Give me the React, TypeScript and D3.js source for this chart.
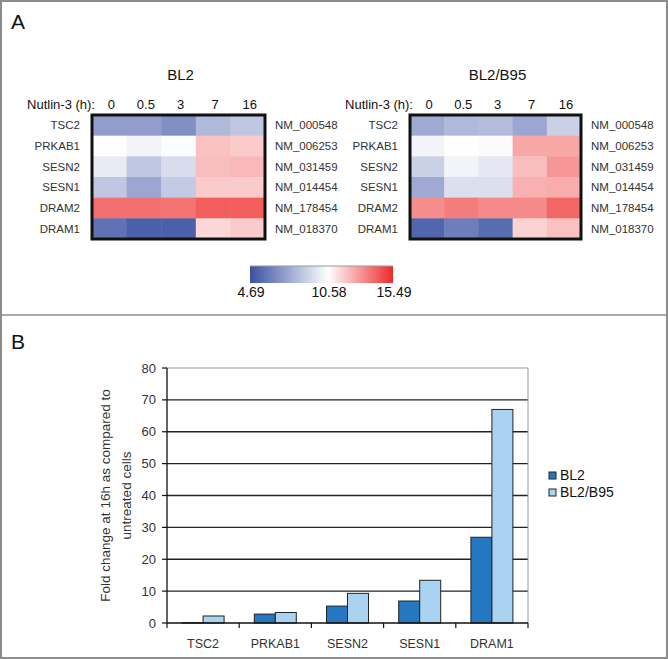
import React from 'react';
import * as d3 from 'd3';

// heatmap data (log2 expression), rows = genes, cols = Nutlin-3 time points
const timePoints = ['0', '0.5', '3', '7', '16'];
const heatGenes = ['TSC2', 'PRKAB1', 'SESN2', 'SESN1', 'DRAM2', 'DRAM1'];
const accessions = ['NM_000548', 'NM_006253', 'NM_031459', 'NM_014454', 'NM_178454', 'NM_018370'];
const bl2Heat = [
  [7.3, 7.3, 6.8, 8.2, 8.7],
  [10.6, 10.2, 10.5, 12.0, 11.8],
  [9.9, 8.7, 9.4, 12.1, 12.2],
  [8.7, 7.6, 8.8, 11.8, 11.8],
  [13.9, 13.9, 13.8, 14.3, 14.3],
  [5.8, 5.2, 5.2, 11.5, 11.8],
];
const b95Heat = [
  [7.7, 8.2, 8.3, 7.6, 9.0],
  [10.2, 10.6, 10.45, 12.6, 12.6],
  [9.0, 10.2, 9.8, 12.1, 13.0],
  [7.7, 9.5, 9.5, 12.4, 12.5],
  [13.2, 13.6, 13.3, 13.3, 14.1],
  [5.4, 6.2, 5.6, 11.6, 12.0],
];
const colorStops = [4.69, 10.58, 15.49];

// fold change bar data
const barGenes = ['TSC2', 'PRKAB1', 'SESN2', 'SESN1', 'DRAM1'];
const seriesNames = ['BL2', 'BL2/B95'];
const bl2Fold = [0.1, 2.8, 5.3, 6.9, 26.9];
const b95Fold = [2.2, 3.3, 9.3, 13.4, 67.0];
const yTicks = [0, 10, 20, 30, 40, 50, 60, 70, 80];

const FONT = '"Liberation Sans", Arial, Helvetica, sans-serif';

const App = () => {
  const color = d3.scaleLinear<string>()
    .domain(colorStops)
    .range(['#3a51a3', '#ffffff', '#ee2a2a'])
    .interpolate(d3.interpolateRgb);

  // heatmap geometry
  const hmTop = 115;
  const hmBottom = 239;
  const heatmaps = [
    { title: 'BL2', left: 92, right: 265, values: bl2Heat },
    { title: 'BL2/B95', left: 410, right: 581, values: b95Heat },
  ];
  const yRow = d3.scaleBand().domain(heatGenes).range([hmTop, hmBottom]);

  // colour bar
  const cbar = d3.scaleLinear().domain([colorStops[0], colorStops[2]]).range([250, 393]);
  const gradStops = d3.range(0, 1.0001, 0.05).map(t => {
    const v = colorStops[0] + t * (colorStops[2] - colorStops[0]);
    return { offset: t, color: color(v) };
  });

  // bar chart geometry
  const x0 = d3.scaleBand().domain(barGenes).range([167, 528]);
  const x1 = d3.scaleBand().domain(seriesNames).range([0, x0.bandwidth()]).paddingOuter(0.72);
  const y = d3.scaleLinear().domain([0, 80]).range([623, 368]);
  const barColors = ['#2577c0', '#a9d3f0'];
  const seriesValues = [bl2Fold, b95Fold];

  return (
    <svg width={668} height={659} style={{ position: 'absolute', left: 0, top: 0, fontFamily: FONT }}>
      <defs>
        <linearGradient id="cbarGrad" x1="0" x2="1" y1="0" y2="0">
          {gradStops.map((s, i) => (
            <stop key={i} offset={s.offset} stopColor={s.color} />
          ))}
        </linearGradient>
      </defs>
      <rect x={0} y={0} width={668} height={659} fill="#fff" />
      <rect x={1} y={1} width={666} height={657} fill="none" stroke="#8c8c8c" strokeWidth={2} />
      <line x1={1} x2={667} y1={315} y2={315} stroke="#8c8c8c" strokeWidth={1.5} />

      {/* panel A */}
      <text x={11} y={29} fontSize={21} fill="#111">A</text>
      {heatmaps.map(h => {
        const xCol = d3.scaleBand().domain(timePoints).range([h.left, h.right]);
        const mid = (h.left + h.right) / 2;
        return (
          <g key={h.title}>
            <text x={mid + 2} y={80} fontSize={15} textAnchor="middle" fill="#111">{h.title}</text>
            <text x={h.left + 3} y={109} fontSize={13} textAnchor="end" fill="#111">Nutlin-3 (h):</text>
            {timePoints.map(t => (
              <text key={t} x={xCol(t)! + xCol.bandwidth() / 2 + 2} y={109} fontSize={13} textAnchor="middle" fill="#111">{t}</text>
            ))}
            {heatGenes.map((g, r) => (
              <g key={g}>
                <text x={h.left - 12} y={yRow(g)! + yRow.bandwidth() / 2 + 4} fontSize={11.5} textAnchor="end" fill="#333">{g}</text>
                <text x={h.right + 10} y={yRow(g)! + yRow.bandwidth() / 2 + 4} fontSize={11.5} fill="#333">{accessions[r]}</text>
                {timePoints.map((t, c) => (
                  <rect key={t} x={xCol(t)} y={yRow(g)} width={xCol.bandwidth() + 0.5} height={yRow.bandwidth() + 0.5}
                    fill={color(h.values[r][c])} />
                ))}
              </g>
            ))}
            <rect x={h.left} y={hmTop} width={h.right - h.left} height={hmBottom - hmTop} fill="none" stroke="#111" strokeWidth={3} />
          </g>
        );
      })}

      <rect x={cbar(colorStops[0])} y={266} width={cbar(colorStops[2]) - cbar(colorStops[0])} height={17} fill="url(#cbarGrad)" />
      <line x1={cbar(colorStops[0])} x2={cbar(colorStops[2])} y1={266} y2={266} stroke="#999" strokeWidth={1} />
      {colorStops.map(v => (
        <text key={v} x={cbar(v) + 1} y={297} fontSize={14} textAnchor="middle" fill="#111">{v.toFixed(2)}</text>
      ))}

      {/* panel B */}
      <text x={11} y={349} fontSize={21} fill="#111">B</text>

      {/* grid and plot frame */}
      {yTicks.filter(t => t > 0 && t < 80).map(t => (
        <line key={t} x1={167} x2={528} y1={y(t)} y2={y(t)} stroke="#222" strokeWidth={1.3} />
      ))}
      <line x1={167} x2={528} y1={y(80)} y2={y(80)} stroke="#999" strokeWidth={1} />
      <line x1={528} x2={528} y1={y(80)} y2={y(0)} stroke="#999" strokeWidth={1} />

      {/* bars */}
      {barGenes.map((g, i) => (
        <g key={g}>
          {seriesNames.map((s, j) => (
            <rect key={s} x={x0(g)! + x1(s)!} y={y(seriesValues[j][i])} width={x1.bandwidth()}
              height={y(0) - y(seriesValues[j][i])} fill={barColors[j]} stroke="#222" strokeWidth={1} />
          ))}
          <text x={x0(g)! + x0.bandwidth() / 2} y={648} fontSize={12.5} textAnchor="middle" fill="#333">{g}</text>
        </g>
      ))}

      {/* axes */}
      <line x1={167} x2={167} y1={y(80)} y2={y(0)} stroke="#111" strokeWidth={1.3} />
      <line x1={167} x2={528} y1={y(0)} y2={y(0)} stroke="#111" strokeWidth={1.3} />
      {yTicks.map(t => (
        <g key={t}>
          <line x1={162} x2={167} y1={y(t)} y2={y(t)} stroke="#111" strokeWidth={1.2} />
          <text x={156} y={y(t) + 4.5} fontSize={13} textAnchor="end" fill="#333">{t}</text>
        </g>
      ))}
      {[...barGenes.map(g => x0(g)!), 528].map((xv, i) => (
        <line key={i} x1={xv} x2={xv} y1={y(0)} y2={y(0) + 5} stroke="#111" strokeWidth={1.2} />
      ))}

      <text transform={`translate(110, ${(y(0) + y(80)) / 2}) rotate(-90)`} fontSize={13.5} textAnchor="middle" fill="#333">
        <tspan x={0} dy={0}>Fold change at 16h as compared to</tspan>
        <tspan x={0} dy={21}>untreated cells</tspan>
      </text>

      {/* legend */}
      {seriesNames.map((s, j) => (
        <g key={s} transform={`translate(549, ${472 + j * 17})`}>
          <rect x={0} y={0} width={7} height={7} fill={barColors[j]} stroke="#222" strokeWidth={1} />
          <text x={11} y={8} fontSize={14} fill="#111">{s}</text>
        </g>
      ))}
    </svg>
  );
};

export default App;
